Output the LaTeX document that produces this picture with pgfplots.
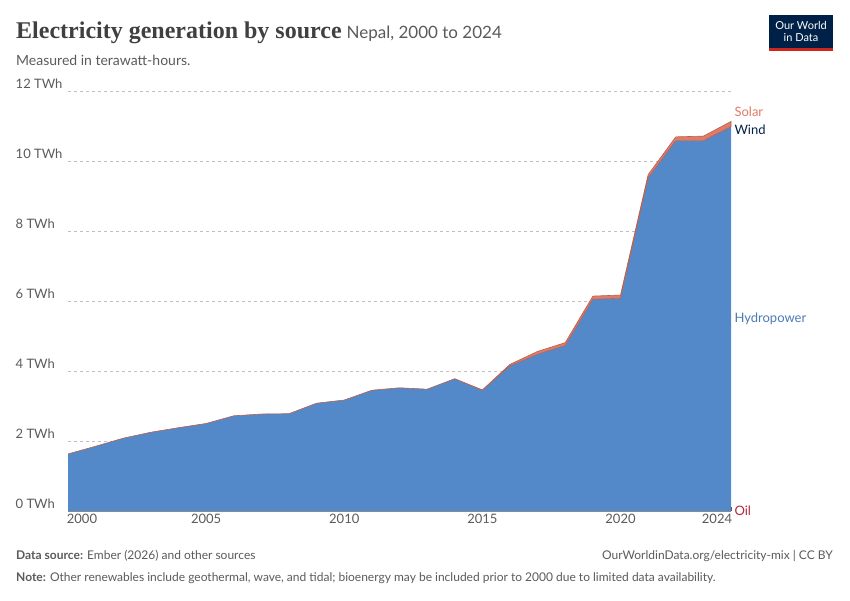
\documentclass[border=0pt]{standalone}
\usepackage{pgfplots}
\pgfplotsset{compat=1.18}
\usepackage{fontspec}
\setmainfont{Lato}
\newfontfamily\titlefont{Liberation Serif}
\definecolor{hydro}{HTML}{5489C9}
\definecolor{solar}{HTML}{E07B68}
\definecolor{txt}{HTML}{5B5B5B}
\definecolor{grid}{HTML}{E2E2E2}
\definecolor{owid}{HTML}{002147}
\definecolor{owidred}{HTML}{CE261C}
\definecolor{oil}{HTML}{B42840}
\begin{document}
\begin{tikzpicture}
\fill[white] (0pt,0pt) rectangle (850pt,600pt);
\node[anchor=base west,inner sep=0] at (16pt,561pt) {{\titlefont\bfseries\fontsize{24}{26}\selectfont\color{txt!70!black}Electricity generation by source}\hspace{5pt}{\fontsize{17}{20}\selectfont\color{txt}Nepal, 2000 to 2024}};
\node[anchor=base west,font=\fontsize{14}{16}\selectfont,text=txt,inner sep=0] at (16pt,534pt) {Measured in terawatt-hours.};
\fill[owid] (769pt,552pt) rectangle (833pt,585pt);
\fill[owidred] (769pt,549pt) rectangle (833pt,552pt);
\node[font=\fontsize{11}{12}\selectfont,text=white,align=center,inner sep=0] at (801pt,568.5pt) {Our World\\in Data};
\begin{axis}[at={(68pt,89pt)},anchor=south west,scale only axis,width=663pt,height=420pt,
 xmin=2000,xmax=2024,ymin=0,ymax=12,
 axis x line*=bottom, axis y line*=left, y axis line style={draw=none},
 xtick={2000,2005,2010,2015,2020,2024},
 xticklabels={\rule{28pt}{0pt}2000,2005,2010,2015,2020,2024\rule{28pt}{0pt}},
 x tick label style={font=\fontsize{13}{14}\selectfont,text=txt},
 /pgf/number format/assume math mode=true,
 ytick={0,2,4,6,8,10,12}, yticklabels={},
 ytick style={draw=none},
 xmajorgrids=false, ymajorgrids, grid style={dashed,grid},
 major tick length=4pt, tick style={txt}, axis line style={txt!70},
 axis on top=false, clip=false]
\addplot[draw=none,fill=hydro] coordinates {(2000,1.63)(2001,1.85)(2002,2.08)(2003,2.25)(2004,2.38)(2005,2.5)(2006,2.72)(2007,2.77)(2008,2.78)(2009,3.08)(2010,3.17)(2011,3.45)(2012,3.52)(2013,3.48)(2014,3.78)(2015,3.45)(2016,4.15)(2017,4.48)(2018,4.73)(2019,6.05)(2020,6.08)(2021,9.52)(2022,10.58)(2023,10.58)(2024,10.98)} \closedcycle;
\addplot[draw=solar!80!black,fill=solar,line width=0.6pt] coordinates {(2000,1.63)(2001,1.85)(2002,2.08)(2003,2.25)(2004,2.38)(2005,2.5)(2006,2.72)(2007,2.77)(2008,2.78)(2009,3.08)(2010,3.17)(2011,3.45)(2012,3.52)(2013,3.48)(2014,3.78)(2015,3.46)(2016,4.19)(2017,4.56)(2018,4.81)(2019,6.14)(2020,6.17)(2021,9.61)(2022,10.69)(2023,10.71)(2024,11.13)
 (2024,10.98)(2023,10.58)(2022,10.58)(2021,9.52)(2020,6.08)(2019,6.05)(2018,4.73)(2017,4.48)(2016,4.15)(2015,3.45)(2014,3.78)(2013,3.48)(2012,3.52)(2011,3.45)(2010,3.17)(2009,3.08)(2008,2.78)(2007,2.77)(2006,2.72)(2005,2.5)(2004,2.38)(2003,2.25)(2002,2.08)(2001,1.85)(2000,1.63)} -- cycle;
\pgfplotsinvokeforeach{0,2,4,6,8,10,12}{\node[anchor=south west,font=\fontsize{13}{14}\selectfont,text=txt,inner sep=0pt,yshift=2pt] at (axis cs:1998.1,#1) {#1 TWh};}
\node[anchor=west,font=\fontsize{13}{14}\selectfont,text=solar] at (axis cs:2024,11.4) {Solar};
\node[anchor=west,font=\fontsize{13}{14}\selectfont,text=owid] at (axis cs:2024,10.9) {Wind};
\node[anchor=west,font=\fontsize{13}{14}\selectfont,text=hydro!90!black] at (axis cs:2024,5.5) {Hydropower};
\node[anchor=west,font=\fontsize{13}{14}\selectfont,text=oil] at (axis cs:2024,0) {Oil};
\end{axis}
\node[anchor=base west,font=\fontsize{12}{13}\selectfont,text=txt,inner sep=0] at (16pt,41pt) {\textbf{Data source:} Ember (2026) and other sources};
\node[anchor=base east,font=\fontsize{12}{13}\selectfont,text=txt,inner sep=0] at (833pt,41pt) {OurWorldinData.org/electricity-mix | CC BY};
\node[anchor=base west,font=\fontsize{12}{13}\selectfont,text=txt,inner sep=0] at (16pt,19pt) {\textbf{Note:} Other renewables include geothermal, wave, and tidal; bioenergy may be included prior to 2000 due to limited data availability.};
\end{tikzpicture}
\end{document}
